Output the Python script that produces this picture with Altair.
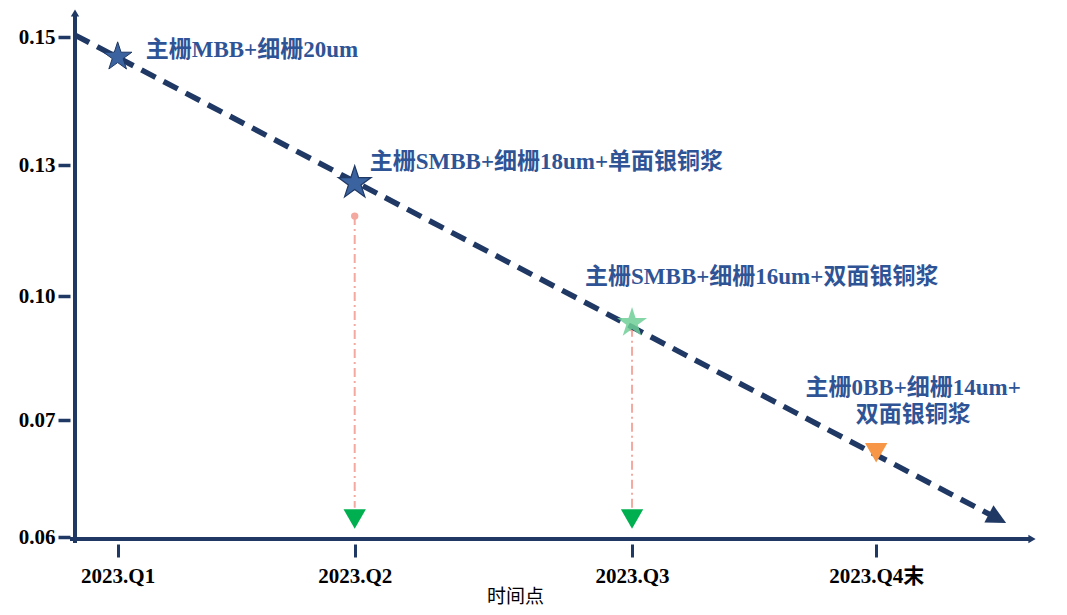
import altair as alt
import pandas as pd

# ---- data ----
y_ticks = [0.06, 0.07, 0.10, 0.13, 0.15]
x_ticks = [1.0, 2.0, 3.17, 4.2]
x_labels = ["2023.Q1", "2023.Q2", "2023.Q3", "2023.Q4末"]

marker_x = [1.0, 2.0, 3.17, 4.2]
marker_y = [0.1469, 0.1259, 0.0935, 0.0672]
labels = [
    "主栅MBB+细栅20um",
    "主栅SMBB+细栅18um+单面银铜浆",
    "主栅SMBB+细栅16um+双面银铜浆",
    "主栅0BB+细栅14um+\n双面银铜浆",
]

trend_x = [0.82, 4.71]
trend_y = [0.1503, 0.0616]

drop_x = [2.0, 3.17]
drop_top = [0.1183, 0.0923]
drop_bottom = [0.0625, 0.0625]
drop_marker_y = [0.06154, 0.06154]

# ---- styling ----
FONT = "'Liberation Serif', 'Noto Sans CJK SC', serif"
NAVY = "#1F3864"
BLUE_TXT = "#2F5496"
STAR = ("M0,-1 L0.225,-0.309 L0.951,-0.309 L0.363,0.118 L0.588,0.809 "
        "L0,0.382 L-0.588,0.809 L-0.363,0.118 L-0.951,-0.309 L-0.225,-0.309 Z")
ARROW = "M1,0 L-0.9,-0.95 L-0.9,0.95 Z"

W, H = 960, 529

label_expr = " : ".join(
    f"datum.value == {v} ? '{l}'" for v, l in zip(x_ticks, x_labels)
) + " : ''"

xs = alt.Scale(domain=[0.82, 4.87], nice=False, zero=False)
ys = alt.Scale(domain=y_ticks, range=[527, 410, 286, 155, 27], nice=False, zero=False)

x_axis = alt.Axis(
    values=x_ticks, labelExpr=label_expr, domain=False, grid=False,
    tickColor=NAVY, tickWidth=3, tickSize=13, offset=5,
    labelFont=FONT, labelFontSize=21, labelFontWeight="bold", labelColor="black",
    labelPadding=8, labelOverlap=False, labelFlush=False,
    title="时间点", titleFont=FONT, titleFontSize=19, titleFontWeight="normal",
    titleColor="black", titleX=440, titleY=43, titleBaseline="top", titleAlign="center",
)
y_axis = alt.Axis(
    values=y_ticks, format=".2f", domain=False, grid=False,
    tickColor=NAVY, tickWidth=3.5, tickSize=12, offset=5,
    labelFont=FONT, labelFontSize=21, labelFontWeight="bold", labelColor="black",
    labelPadding=3, labelOverlap=False, labelFlush=False, title=None,
)

X = alt.X("x:Q", scale=xs, axis=x_axis)
Y = alt.Y("y:Q", scale=ys, axis=y_axis)

markers = pd.DataFrame({"x": marker_x, "y": marker_y, "label": labels})
trend = pd.DataFrame({"x": trend_x, "y": trend_y})
drops = pd.DataFrame({"x": drop_x, "y": drop_top, "y2": drop_bottom})
drop_tri = pd.DataFrame({"x": drop_x, "y": drop_marker_y})
drop_dot = pd.DataFrame({"x": drop_x, "y": drop_top})

layers = []

# pink dash-dot drop lines
layers.append(
    alt.Chart(drops).mark_rule(color="#F4A9A0", strokeWidth=2, strokeDash=[9, 4, 2, 4])
    .encode(x=X, y=Y, y2="y2:Q")
)
layers.append(
    alt.Chart(drop_dot).mark_point(shape="circle", filled=True, size=55, color="#F4A9A0", opacity=1)
    .encode(x=X, y=Y)
)
layers.append(
    alt.Chart(drop_tri).mark_point(shape="triangle-down", filled=True, size=500, color="#00B050", opacity=1)
    .encode(x=X, y=Y)
)

# main dashed trend line with arrow head
layers.append(
    alt.Chart(trend).mark_line(color=NAVY, strokeWidth=5.5, strokeDash=[16, 9], strokeCap="butt")
    .encode(x=X, y=Y)
)
layers.append(
    alt.Chart(trend.iloc[[1]]).mark_point(shape=ARROW, angle=27.7, filled=True,
                                          size=420, color=NAVY, opacity=1)
    .encode(x=X, y=Y)
)

# markers
layers.append(
    alt.Chart(markers.iloc[[0]]).mark_point(shape=STAR, filled=True, size=900, fill="#3A63A0",
                                             stroke=NAVY, strokeWidth=1, opacity=1)
    .encode(x=X, y=Y)
)
layers.append(
    alt.Chart(markers.iloc[[1]]).mark_point(shape=STAR, filled=True, size=1200, fill="#3A63A0",
                                             stroke=NAVY, strokeWidth=1.2, opacity=1)
    .encode(x=X, y=Y)
)
layers.append(
    alt.Chart(markers.iloc[[2]]).mark_point(shape=STAR, filled=True, size=1000, fill="#6FCF97",
                                             opacity=0.85)
    .encode(x=X, y=Y)
)
layers.append(
    alt.Chart(markers.iloc[[3]]).mark_point(shape="triangle-down", filled=True, size=500,
                                             color="#F79646", opacity=1)
    .encode(x=X, y=Y)
)

# annotation texts
offsets = [(28, -7, "left", "middle"), (15, -21, "left", "middle"),
           (-47, -46, "left", "middle"), (37, -76, "center", "top")]
for i, (dx, dy, al, bl) in enumerate(offsets):
    layers.append(
        alt.Chart(markers.iloc[[i]]).mark_text(
            dx=dx, dy=dy, align=al, baseline=bl, font=FONT, fontSize=23,
            fontWeight="bold", color=BLUE_TXT, lineBreak="\n", lineHeight=27,
        ).encode(x=X, y=Y, text="label:N")
    )

# axis frame lines with arrows
layers.append(
    alt.Chart(markers.iloc[[0]]).mark_rule(color=NAVY, strokeWidth=4)
    .encode(x=alt.value(0), y=alt.value(4), y2=alt.value(H + 4))
)
layers.append(
    alt.Chart(markers.iloc[[0]]).mark_point(shape="triangle-up", filled=True, size=70, color=NAVY, opacity=1)
    .encode(x=alt.value(0), y=alt.value(3))
)
layers.append(
    alt.Chart(markers.iloc[[0]]).mark_rule(color=NAVY, strokeWidth=4)
    .encode(x=alt.value(-5), x2=alt.value(W - 6), y=alt.value(H))
)
layers.append(
    alt.Chart(markers.iloc[[0]]).mark_point(shape="triangle-right", filled=True, size=70, color=NAVY, opacity=1)
    .encode(x=alt.value(W - 3), y=alt.value(H))
)

chart = alt.layer(*layers).properties(
    width=W, height=H,
    autosize=alt.AutoSizeParams(type="none"),
    padding={"left": 75, "top": 10, "right": 32, "bottom": 76},
    background="white",
).configure_view(stroke=None)

chart.save("out.html", embed_options={"renderer": "svg", "actions": False})
